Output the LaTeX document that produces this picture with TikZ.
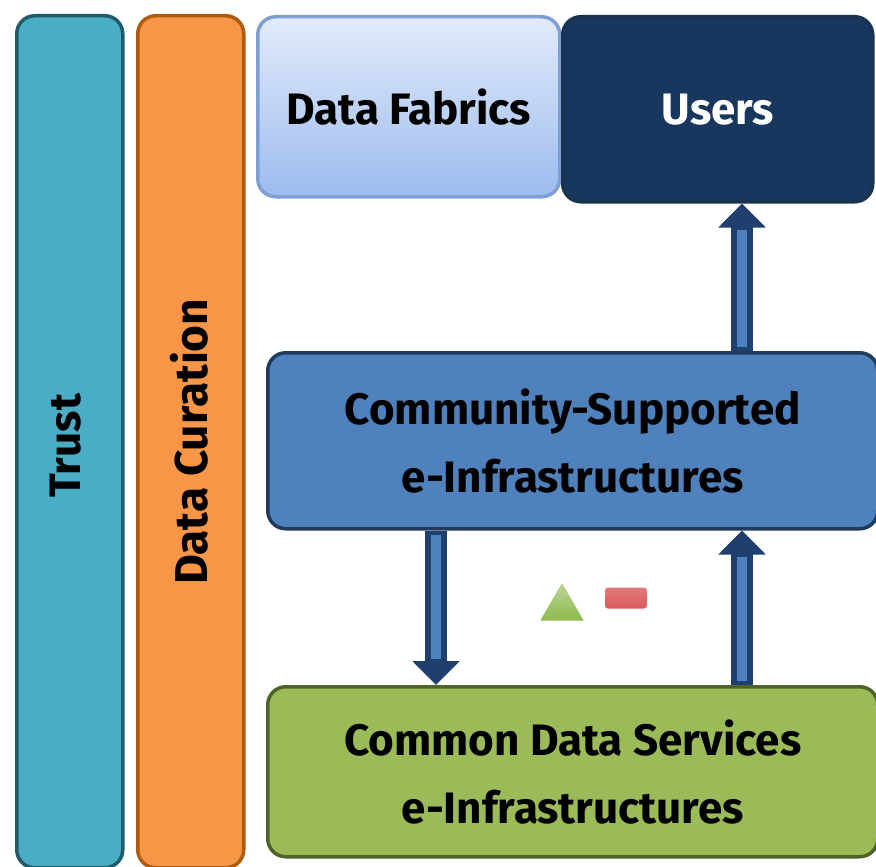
\documentclass[tikz,border=0pt]{standalone}
\usepackage{fontspec}
\setmainfont{Fira Sans}
\usetikzlibrary{arrows.meta,shapes.geometric}
\definecolor{trustfill}{HTML}{4BACC6}
\definecolor{trustline}{HTML}{215A6B}
\definecolor{curfill}{HTML}{F79646}
\definecolor{curline}{HTML}{B05A10}
\definecolor{fabtop}{HTML}{E2EBFA}
\definecolor{fabbot}{HTML}{9DBBEE}
\definecolor{fabline}{HTML}{7E9FD3}
\definecolor{userfill}{HTML}{17375E}
\definecolor{userline}{HTML}{1A3350}
\definecolor{commfill}{HTML}{4F81BD}
\definecolor{commline}{HTML}{1F3A5C}
\definecolor{cdsfill}{HTML}{9BBB59}
\definecolor{cdsline}{HTML}{4F6228}
\definecolor{arrline}{HTML}{1F3F6E}
\definecolor{arrfill}{HTML}{4F81BD}
\definecolor{trigreen}{HTML}{8DBA4E}
\definecolor{redbar}{HTML}{D9595B}
\tikzset{
  box/.style={rectangle, rounded corners=18pt, line width=3.5pt, anchor=north west,
    align=center, font=\fontsize{44}{68}\selectfont\bfseries, inner sep=0pt},
  sidetext/.style={rotate=90, font=\fontsize{#1}{48}\selectfont\bfseries},
  fatarrow/.style={-{Triangle[width=46pt,length=24pt]}, line width=22pt, arrline},
  fatcore/.style={line width=10pt, arrfill, shorten <=4pt, shorten >=26pt},
}
\begin{document}
\begin{tikzpicture}[x=1pt,y=-1pt]
\useasboundingbox (0,0) rectangle (876,867);
\node[box, draw=trustline, fill=trustfill, minimum width=106pt, minimum height=852pt] (trust) at (15,14) {};
\node[sidetext=44] (trusttxt) at ([xshift=-4pt,yshift=-4pt]trust.center) {Trust};
\node[box, draw=curline, fill=curfill, minimum width=106pt, minimum height=852pt] (cur) at (136,14) {};
\node[sidetext=46] (curtxt) at ([xshift=-2pt]cur.center) {Data Curation};
\node[box, draw=fabline, top color=fabtop, bottom color=fabbot, minimum width=302pt, minimum height=180pt] (fab) at (256,15) {Data Fabrics};
\node[box, draw=userline, fill=userfill, text=white, minimum width=310pt, minimum height=185pt] (users) at (561,15) {Users};
\node[box, draw=commline, fill=commfill, minimum width=610pt, minimum height=176pt] (comm) at (266,351) {Community-Supported\\e-Infrastructures};
\node[box, draw=cdsline, fill=cdsfill, minimum width=610pt, minimum height=170pt] (cds) at (266,685) {Common Data Services\\e-Infrastructures};
\coordinate (xl) at (436,0);
\coordinate (xr) at (742,0);
\draw[fatarrow] (comm.south -| xl) -- (cds.north -| xl);
\draw[fatcore] (comm.south -| xl) -- (cds.north -| xl);
\draw[fatarrow] (cds.north -| xr) -- (comm.south -| xr);
\draw[fatcore] (cds.north -| xr) -- (comm.south -| xr);
\draw[fatarrow] (comm.north -| xr) -- (users.south -| xr);
\draw[fatcore] (comm.north -| xr) -- (users.south -| xr);
\node[regular polygon, regular polygon sides=3, inner sep=0pt, minimum size=50pt, top color=trigreen!60!white, bottom color=trigreen, draw=none] (tri) at (562,608) {};
\node[rectangle, rounded corners=3pt, minimum width=42pt, minimum height=21pt, inner sep=0pt, top color=redbar!80!white, bottom color=redbar] (bar) at (626,598) {};
\end{tikzpicture}
\end{document}
